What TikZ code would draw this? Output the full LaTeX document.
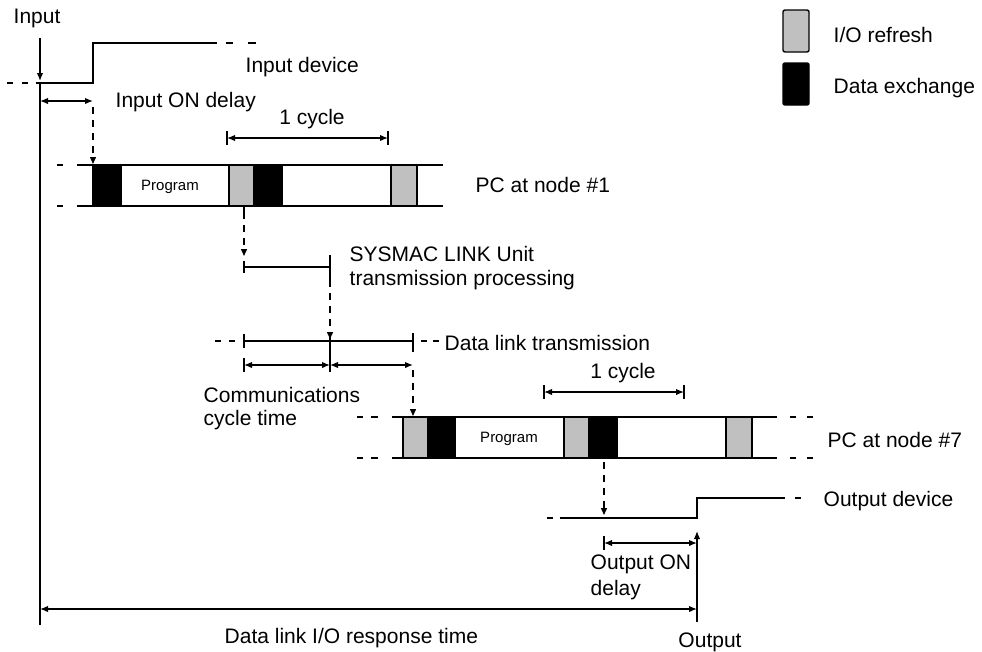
\documentclass[tikz,border=0pt]{standalone}
\usepackage{fontspec}
\setmainfont{Liberation Sans}
\usetikzlibrary{arrows.meta}
\definecolor{iogray}{HTML}{C0C0C0}
\begin{document}
\begin{tikzpicture}[x=1pt,y=-1pt,line width=1.4pt,
  lbl/.style={font=\fontsize{21}{25}\selectfont,inner sep=0pt,anchor=base west},
  clbl/.style={font=\fontsize{21}{25}\selectfont,inner sep=0pt,anchor=base},
  prog/.style={font=\fontsize{15}{18}\selectfont,inner sep=0pt,anchor=base},
  dsh/.style={dash pattern=on 6pt off 6pt},
  sarrow/.style={-{Latex[length=8pt,width=6.5pt]}},
  darrow/.style={{Latex[length=8pt,width=6.5pt]}-{Latex[length=8pt,width=6.5pt]}},
  dasharrow/.style={dash pattern=on 7pt off 6pt,-{Triangle[length=7pt,width=6pt]}},
  ioblock/.style={fill=iogray,draw=black},
  dxblock/.style={fill=black,draw=black}]
\useasboundingbox (0,0) rectangle (982,651);

% ---------- legend ----------
\draw[ioblock,rounded corners=2pt] (783,10) rectangle (809,52);
\draw[dxblock,rounded corners=2pt] (783,63) rectangle (809,105);
\node[lbl] (lgio) at (833,42) {I/O refresh};
\node[lbl] (lgdx) at (833,93) {Data exchange};

% ---------- input device ----------
\node[lbl] (tinput) at (13,23) {Input};
\coordinate (inTop) at (40,38);
\coordinate (inLow) at (40,81);
\draw[sarrow] (inTop) -- (inLow);
\draw (7,83) -- (13,83) (22,83) -- (28,83);
\draw (36,83) -- (93,83) -- (93,43) -- (217,43);
\draw (226,43) -- (233,43) (248,43) -- (256,43);
\node[lbl] (tindev) at (245,72) {Input device};
% main vertical line
\coordinate (mainTop) at (40,83);
\coordinate (mainBot) at (40,625);
\draw (mainTop) -- (mainBot);
% input ON delay
\coordinate (iodL) at (40,101);
\coordinate (iodR) at (93,101);
\draw[darrow] (iodL) -- (iodR);
\node[lbl] (tiod) at (115,107) {Input ON delay};
\coordinate (d1s) at (93,107);
\coordinate (d1e) at (93,164);
\draw[dasharrow] (d1s) -- (d1e);

% ---------- PC at node #1 ----------
\draw (57,165) -- (63,165) (57,206) -- (63,206);
\draw (77,165) -- (443,165) (77,206) -- (443,206);
\draw[dxblock] (93,165) rectangle (121,206);
\node[prog] (tprog1) at (170,190) {Program};
\draw[ioblock] (229,165) rectangle (254,206);
\draw[dxblock] (254,165) rectangle (282,206);
\draw[ioblock] (391,165) rectangle (417,206);
\node[lbl] (tpc1) at (475,192) {PC at node \#1};
% 1 cycle (top)
\draw (227,131) -- (227,145) (388,131) -- (388,145);
\coordinate (c1L) at (227,138);
\coordinate (c1R) at (388,138);
\draw[darrow] (c1L) -- (c1R);
\node[clbl] (tc1) at (312,124) {1 cycle};

% ---------- SYSMAC LINK unit processing ----------
\coordinate (d2s) at (244,206);
\coordinate (d2e) at (244,256);
\draw (244,206) -- (244,212);
\draw[dasharrow] (244,212) -- (d2e);
\draw (244,261) -- (244,273) (330,255) -- (330,280);
\draw (244,267) -- (330,267);
\node[lbl] (tsys1) at (349,261) {SYSMAC LINK Unit};
\node[lbl] (tsys2) at (349,285) {transmission processing};
\coordinate (d3s) at (330,280);
\coordinate (d3e) at (330,339);
\draw[dasharrow] (d3s) -- (d3e);

% ---------- data link transmission ----------
\draw (215,341) -- (221,341) (229,341) -- (235,341);
\draw (244,341) -- (413,341);
\draw (244,334) -- (244,348) (330,333) -- (330,372) (413,333) -- (413,352);
\draw (421,341) -- (427,341) (433,341) -- (439,341);
\node[lbl] (tdlt) at (444,350) {Data link transmission};
% communications cycle time
\draw (244,358) -- (244,372);
\coordinate (cc1L) at (244,365);
\coordinate (cc1R) at (330,365);
\coordinate (cc2R) at (413,365);
\draw[darrow] (cc1L) -- (cc1R);
\draw[darrow] (cc1R) -- (cc2R);
\node[lbl] (tcom1) at (203,402) {Communications};
\node[lbl] (tcom2) at (203,425) {cycle time};
\coordinate (d4s) at (413,370);
\coordinate (d4e) at (413,416);
\draw[dasharrow] (d4s) -- (d4e);

% ---------- PC at node #7 ----------
\draw (357,417) -- (363,417) (371,417) -- (378,417);
\draw (357,458) -- (363,458) (371,458) -- (378,458);
\draw (392,417) -- (777,417) (392,458) -- (777,458);
\draw (790,417) -- (796,417) (807,417) -- (813,417);
\draw (790,458) -- (796,458) (807,458) -- (813,458);
\draw[ioblock] (403,417) rectangle (428,458);
\draw[dxblock] (428,417) rectangle (455,458);
\node[prog] (tprog7) at (509,442) {Program};
\draw[ioblock] (564,417) rectangle (589,458);
\draw[dxblock] (589,417) rectangle (617,458);
\draw[ioblock] (726,417) rectangle (752,458);
\node[lbl] (tpc7) at (827,447) {PC at node \#7};
% 1 cycle (bottom)
\draw (544,385) -- (544,399) (684,385) -- (684,399);
\coordinate (c7L) at (544,392);
\coordinate (c7R) at (684,392);
\draw[darrow] (c7L) -- (c7R);
\node[clbl] (tc7) at (623,378) {1 cycle};

% ---------- output device ----------
\coordinate (d5s) at (604,462);
\coordinate (d5e) at (604,515);
\draw[dasharrow] (d5s) -- (d5e);
\draw (547,518) -- (553,518);
\draw (560,518) -- (697,518) -- (697,498) -- (785,498);
\draw (795,498) -- (801,498);
\node[lbl] (toutdev) at (823,506) {Output device};
% output ON delay
\draw (604,536) -- (604,550);
\coordinate (oodL) at (604,543);
\coordinate (oodR) at (697,543);
\draw[darrow] (oodL) -- (oodR);
\node[lbl] (tood1) at (590,569) {Output ON};
\node[lbl] (tood2) at (590,595) {delay};
% output arrow
\coordinate (outBot) at (697,622);
\coordinate (outTop) at (697,531);
\draw[sarrow] (outBot) -- (outTop);
\node[clbl] (tout) at (710,647) {Output};
% data link I/O response time
\coordinate (rspL) at (40,609);
\coordinate (rspR) at (697,609);
\draw[darrow] (rspL) -- (rspR);
\node[lbl] (trsp) at (224,643) {Data link I/O response time};
\end{tikzpicture}
\end{document}
